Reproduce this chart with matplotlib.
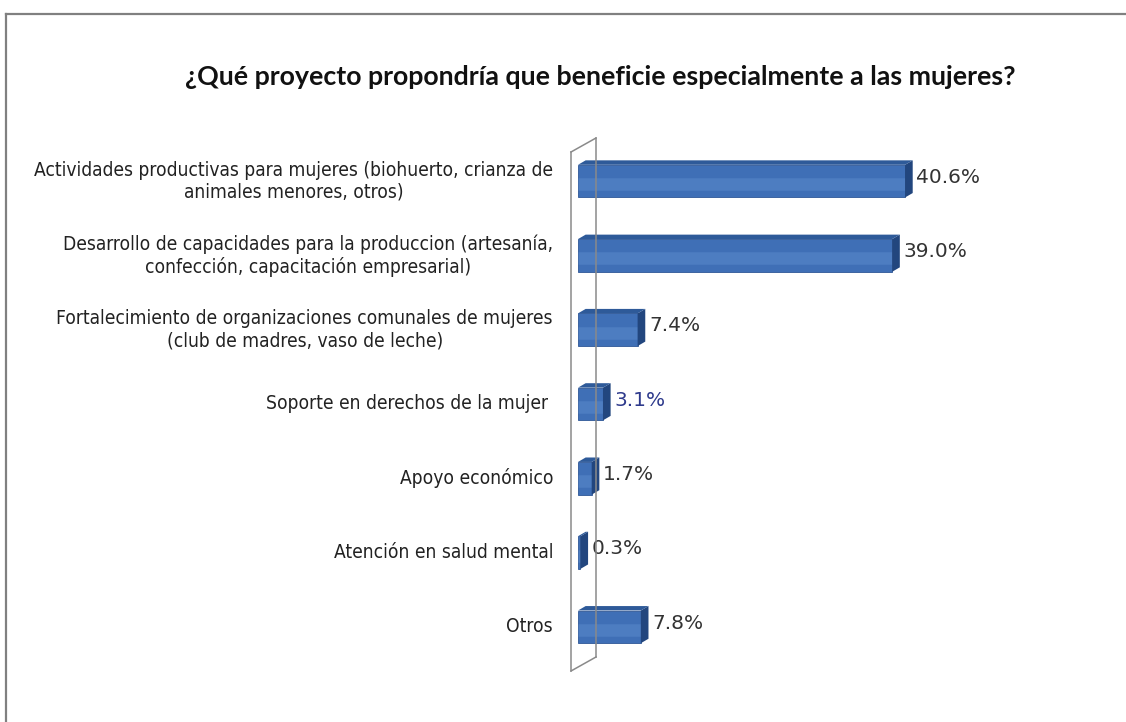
import matplotlib
matplotlib.use("Agg")
import matplotlib.pyplot as plt
from matplotlib.patches import Polygon
from matplotlib.lines import Line2D

categories = [
    "Actividades productivas para mujeres (biohuerto, crianza de\nanimales menores, otros)",
    "Desarrollo de capacidades para la produccion (artesanía,\nconfección, capacitación empresarial)",
    "Fortalecimiento de organizaciones comunales de mujeres\n(club de madres, vaso de leche)",
    "Soporte en derechos de la mujer ",
    "Apoyo económico",
    "Atención en salud mental",
    "Otros",
]
values = [40.6, 39.0, 7.4, 3.1, 1.7, 0.3, 7.8]
value_labels = ["40.6%", "39.0%", "7.4%", "3.1%", "1.7%", "0.3%", "7.8%"]
title = "¿Qué proyecto propondría que beneficie especialmente a las mujeres?"

fig = plt.figure(figsize=(11.26, 7.22), dpi=100)
ax = fig.add_axes([578/1126, 1-664/722, 522/1126, 520/722])
ax.set_xlim(0, 64.8)
ax.set_ylim(len(values)-0.5, -0.5)
ax.axis("off")

def P(x, y):
    return (x/1126, 1 - y/722)

# back wall lines (figure pixels)
wall = [P(571, 152), P(571, 671), P(596, 657), P(596, 138)]
for a, b in [(0, 1), (1, 2), (2, 3), (3, 0)]:
    fig.add_artist(Line2D([wall[a][0], wall[b][0]], [wall[a][1], wall[b][1]],
                          color="#8a8a8a", lw=1.1, zorder=1))

ypos = list(range(len(values)))
h = 0.44
front = "#3F6FB6"
ax.barh(ypos, values, height=h, color=front, edgecolor="#2E5797", linewidth=0.6, zorder=3)

dx = 0.95
dy = 0.06
for y, v in zip(ypos, values):
    ax.plot([0, v], [y+0.04, y+0.04], color="#5F8FD0", lw=9, alpha=0.45, zorder=4,
            solid_capstyle="butt")
    cap = Polygon([(v, y-h/2), (v+dx, y-h/2-dy), (v+dx, y+h/2-dy), (v, y+h/2)],
                  closed=True, facecolor="#22467E", edgecolor="none", zorder=4)
    ax.add_patch(cap)
    top = Polygon([(0, y-h/2), (dx, y-h/2-dy), (v+dx, y-h/2-dy), (v, y-h/2)],
                  closed=True, facecolor="#2E5A99", edgecolor="none", zorder=4)
    ax.add_patch(top)

for y, v, lab in zip(ypos, values, value_labels):
    col = "#2E3A8C" if lab == "3.1%" else "#333333"
    ax.text(v + dx + 0.45, y - 0.05, lab, ha="left", va="center", fontsize=14.5,
            color=col, family="DejaVu Sans", zorder=5)

for y, c in zip(ypos, categories):
    ax.annotate(c, xy=(0, y), xycoords="data", xytext=(-25, 0), textcoords="offset pixels",
                ha="right", va="center", multialignment="center", fontsize=13.8,
                family="DejaVu Sans", fontstretch="condensed", color="#222222",
                linespacing=1.2, annotation_clip=False)

# frame
fig.add_artist(Line2D([P(6, 14)[0], P(1126, 14)[0]], [P(6, 14)[1], P(1126, 14)[1]], color="#808080", lw=1.6))
fig.add_artist(Line2D([P(6, 14)[0], P(6, 722)[0]], [P(6, 14)[1], P(6, 722)[1]], color="#808080", lw=1.6))

fig.text(600/1126, 1-77/722, title, ha="center", va="center", fontsize=19.3,
         fontweight="bold", family="Lato", color="#111111")

fig.savefig("out.png", dpi=100, facecolor="white")
